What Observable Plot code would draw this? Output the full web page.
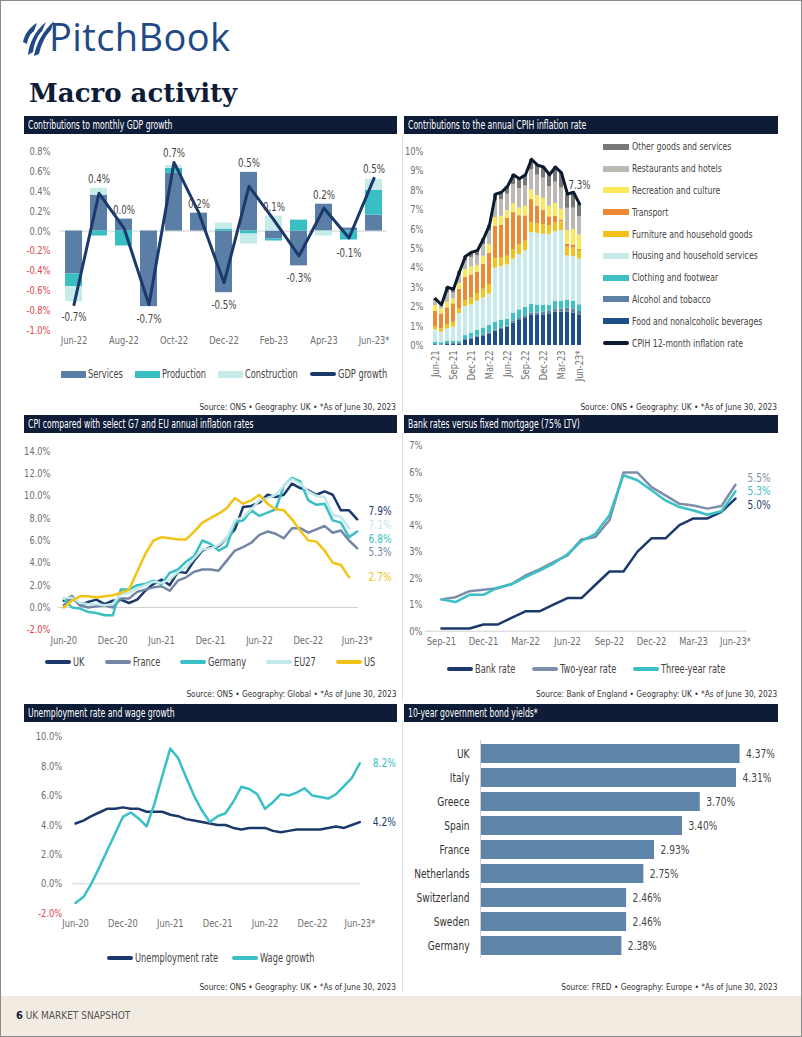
<!DOCTYPE html>
<html>
<head>
<meta charset="utf-8">
<script src="https://cdn.jsdelivr.net/npm/d3@7"></script>
<script src="https://cdn.jsdelivr.net/npm/@observablehq/plot@0.6"></script>
<style>
html,body{margin:0;padding:0;}
body{width:802px;height:1037px;position:relative;overflow:hidden;background:#fff;
  font-family:"Liberation Sans Narrow","Noto Sans Condensed","DejaVu Sans Condensed",Roboto,sans-serif;}
.abs{position:absolute;}
.tbar{position:absolute;height:18px;background:#0e1c38;color:#fff;font-size:11.5px;line-height:18px;padding-left:4px;box-sizing:border-box;white-space:nowrap;overflow:hidden;}
.tbar span{display:inline-block;transform:scaleX(0.745);transform-origin:left center;}
.src{position:absolute;font-size:9.5px;color:#333;text-align:right;white-space:nowrap;}
.src span{display:inline-block;transform:scaleX(0.87);transform-origin:right center;}
.vline{position:absolute;width:1px;background:#dedede;}
</style>
</head>
<body>
<div class="abs" style="left:0;top:0;width:800px;height:1035px;border:1px solid #8a8a8a;"></div>

<!-- header -->
<svg class="abs" style="left:20px;top:18px" width="36" height="40" viewBox="0 0 36 40">
  <path d="M3 24 C5 15 10 9 17 5 L14 13 C10 16 8 20 7 26 Z" fill="#1f4a86"/>
  <path d="M8 37 C9 25 15 13 26 4 L22 13 C17 18 14 26 13 34 Z" fill="#1f4a86"/>
  <path d="M14 38 C16 26 23 13 34 3 L31 12 C25 18 21 27 19 36 Z" fill="#1f4a86"/>
</svg>
<div class="abs" style="left:49px;top:10px;font-family:'Open Sans',sans-serif;font-size:38px;color:#1f4a86;letter-spacing:0.4px;">PitchBook</div>
<div class="abs" style="left:29px;top:78px;font-family:'DejaVu Serif',serif;font-weight:bold;font-size:26px;color:#0e1c38;">Macro activity</div>

<!-- title bars -->
<div class="tbar" style="left:24px;top:116px;width:373px;"><span>Contributions to monthly GDP growth</span></div>
<div class="tbar" style="left:404px;top:116px;width:374px;"><span>Contributions to the annual CPIH inflation rate</span></div>
<div class="tbar" style="left:24px;top:415px;width:373px;"><span>CPI compared with select G7 and EU annual inflation rates</span></div>
<div class="tbar" style="left:404px;top:415px;width:374px;"><span>Bank rates versus fixed mortgage (75% LTV)</span></div>
<div class="tbar" style="left:24px;top:704px;width:373px;"><span>Unemployment rate and wage growth</span></div>
<div class="tbar" style="left:404px;top:704px;width:374px;"><span>10-year government bond yields*</span></div>

<div class="vline" style="left:402px;top:134px;height:278px;"></div>
<div class="vline" style="left:402px;top:433px;height:268px;"></div>
<div class="vline" style="left:402px;top:722px;height:270px;"></div>

<!-- sources -->
<div class="src" style="right:406px;top:401px;"><span>Source: ONS • Geography: UK • *As of June 30, 2023</span></div>
<div class="src" style="right:25px;top:401px;"><span>Source: ONS • Geography: UK • *As of June 30, 2023</span></div>
<div class="src" style="right:406px;top:688px;"><span>Source: ONS • Geography: Global • *As of June 30, 2023</span></div>
<div class="src" style="right:25px;top:688px;"><span>Source: Bank of England • Geography: UK • *As of June 30, 2023</span></div>
<div class="src" style="right:406px;top:981px;"><span>Source: ONS • Geography: UK • *As of June 30, 2023</span></div>
<div class="src" style="right:25px;top:981px;"><span>Source: FRED • Geography: Europe • *As of June 30, 2023</span></div>

<!-- footer -->
<div class="abs" style="left:1px;top:996px;width:800px;height:40px;background:#f1ebe1;"></div>
<div class="abs" style="left:16px;top:1009px;font-size:10px;white-space:nowrap;"><b style="color:#0e1c38;font-size:11px;">6</b> <span style="color:#555;">UK MARKET SNAPSHOT</span></div>

<script>
// ---------------- DATA ----------------
// 1. Contributions to monthly GDP growth (%)
const gdpMonths = ["Jun-22","Jul-22","Aug-22","Sep-22","Oct-22","Nov-22","Dec-22","Jan-23","Feb-23","Mar-23","Apr-23","May-23","Jun-23*"];
const gdpServices     = [-0.43, 0.36, 0.12, -0.76, 0.58, 0.18, -0.62, 0.59, -0.08, -0.35, 0.27, 0.03, 0.16];
const gdpProduction   = [-0.13, -0.05, -0.15, 0.00, 0.05, 0.00, 0.02, -0.03, -0.02, 0.11, 0.00, -0.09, 0.25];
const gdpConstruction = [-0.15, 0.07, 0.00, 0.00, 0.03, 0.00, 0.06, -0.10, 0.15, 0.00, -0.05, 0.00, 0.11];
const gdpGrowth       = [-0.74, 0.38, 0.03, -0.74, 0.69, 0.18, -0.52, 0.45, 0.11, -0.25, 0.23, -0.07, 0.53];
const gdpYTicks = [-1.0,-0.8,-0.6,-0.4,-0.2,0,0.2,0.4,0.6,0.8];

// 2. Contributions to annual CPIH inflation rate (percentage points)
const cpihMonths = ["Jun-21","Jul-21","Aug-21","Sep-21","Oct-21","Nov-21","Dec-21","Jan-22","Feb-22","Mar-22","Apr-22","May-22","Jun-22","Jul-22","Aug-22","Sep-22","Oct-22","Nov-22","Dec-22","Jan-23","Feb-23","Mar-23","Apr-23","May-23","Jun-23*"];
const cpihFood        = [0.00,0.00,0.05,0.05,0.05,0.26,0.34,0.43,0.50,0.60,0.74,0.86,0.95,1.15,1.29,1.43,1.55,1.55,1.58,1.63,1.72,1.72,1.72,1.68,1.55];
const cpihAlcohol     = [0.05,0.04,0.05,0.05,0.05,0.05,0.05,0.05,0.05,0.05,0.05,0.05,0.05,0.10,0.10,0.10,0.12,0.13,0.15,0.15,0.15,0.15,0.20,0.20,0.20];
const cpihClothing    = [0.12,0.10,0.12,0.12,0.10,0.20,0.25,0.30,0.35,0.40,0.40,0.40,0.35,0.40,0.45,0.45,0.45,0.40,0.35,0.30,0.40,0.40,0.40,0.40,0.35];
const cpihHousing     = [0.64,0.55,0.64,0.73,1.45,1.50,1.45,1.50,1.55,1.60,2.80,2.75,2.80,2.80,2.85,2.90,3.70,3.70,3.65,3.65,3.60,3.65,2.30,2.30,2.35];
const cpihFurniture   = [0.14,0.17,0.22,0.25,0.25,0.30,0.35,0.40,0.45,0.50,0.50,0.45,0.45,0.50,0.50,0.50,0.50,0.50,0.50,0.45,0.45,0.45,0.45,0.45,0.45];
const cpihTransport   = [0.80,0.77,0.86,0.95,1.00,1.20,1.20,1.10,1.30,1.60,1.65,1.70,1.95,1.90,1.50,1.30,1.20,0.90,0.75,0.45,0.35,0.10,0.15,0.15,0.05];
const cpihRecreation  = [0.31,0.26,0.29,0.25,0.30,0.40,0.40,0.35,0.40,0.45,0.45,0.45,0.40,0.45,0.40,0.50,0.50,0.55,0.60,0.55,0.65,0.55,0.70,0.80,0.75];
const cpihRestaurants = [0.24,0.17,0.48,0.30,0.40,0.45,0.50,0.50,0.60,0.70,0.85,0.85,0.85,1.00,1.00,1.05,1.05,1.05,1.05,1.00,1.10,1.10,1.15,1.10,0.95];
const cpihOther       = [0.10,0.04,0.29,0.20,0.20,0.24,0.26,0.27,0.30,0.30,0.36,0.39,0.40,0.50,0.51,0.57,0.53,0.52,0.57,0.62,0.78,0.78,0.73,0.82,0.65];
const cpihRate        = [2.4,2.1,3.0,2.9,3.8,4.6,4.8,4.9,5.5,6.2,7.8,7.9,8.2,8.8,8.6,8.8,9.6,9.3,9.2,8.8,9.2,8.9,7.8,7.9,7.3];
const cpihSeries = ["Food and nonalcoholic beverages","Alcohol and tobacco","Clothing and footwear","Housing and household services","Furniture and household goods","Transport","Recreation and culture","Restaurants and hotels","Other goods and services"];
const cpihYTicks = [0,1,2,3,4,5,6,7,8,9,10];

// 3. CPI annual inflation (%), monthly from Jun-20
const cpiUK      = [0.6,1.0,0.2,0.5,0.7,0.3,0.6,0.7,0.4,0.7,1.5,2.1,2.5,2.0,3.2,3.1,4.2,5.1,5.4,5.5,6.2,7.0,9.0,9.1,9.4,10.1,9.9,10.1,11.1,10.7,10.5,10.1,10.4,10.1,8.7,8.7,7.9];
const cpiFrance  = [0.2,0.9,0.2,0.0,0.1,0.2,0.0,0.8,0.8,1.4,1.6,1.8,1.9,1.5,2.4,2.7,3.2,3.4,3.4,3.3,4.2,5.1,5.4,5.8,6.5,6.8,6.6,6.2,7.1,7.1,6.7,7.0,7.3,6.7,6.9,6.0,5.3];
const cpiGermany = [0.8,0.0,-0.1,-0.4,-0.5,-0.7,-0.7,1.6,1.6,2.0,2.1,2.4,2.1,3.1,3.4,4.1,4.6,6.0,5.7,5.1,5.5,7.6,7.8,8.7,8.2,8.5,8.8,10.9,11.6,11.3,9.6,9.2,9.3,7.8,7.6,6.3,6.8];
const cpiEU27    = [0.8,0.9,0.4,0.3,0.3,0.2,0.3,1.2,1.3,1.7,2.0,2.3,2.2,2.5,3.2,3.6,4.4,5.2,5.3,5.6,6.2,7.8,8.1,8.8,9.6,9.8,10.1,10.9,11.5,11.1,10.4,10.0,9.9,8.3,8.1,7.1];
const cpiUS      = [0.0,0.6,1.0,1.0,0.9,1.0,1.1,1.3,1.6,3.2,4.8,6.0,6.3,6.2,6.1,6.1,6.8,7.6,8.0,8.4,8.9,9.8,9.3,9.6,10.1,9.3,8.8,8.7,7.9,6.9,6.0,5.9,5.1,4.0,3.8,2.7];
const cpiSeries = ["UK","France","Germany","EU27","US"];
const cpiXTicks = [0,6,12,18,24,30,36];
const cpiXLabels = ["Jun-20","Dec-20","Jun-21","Dec-21","Jun-22","Dec-22","Jun-23*"];
const cpiYTicks = [-2,0,2,4,6,8,10,12,14];

// 4. Bank rate vs fixed mortgage rates (%), monthly from Sep-21
const bankRate  = [0.1,0.1,0.1,0.25,0.25,0.5,0.75,0.75,1.0,1.25,1.25,1.75,2.25,2.25,3.0,3.5,3.5,4.0,4.25,4.25,4.5,5.0];
const bankTwo   = [1.2,1.28,1.51,1.56,1.62,1.78,2.1,2.33,2.6,2.86,3.46,3.55,4.18,5.98,5.98,5.43,5.12,4.8,4.74,4.62,4.72,5.52];
const bankThree = [1.2,1.1,1.37,1.37,1.64,1.76,2.04,2.28,2.55,2.9,3.4,3.67,4.37,5.88,5.69,5.31,4.93,4.68,4.55,4.39,4.52,5.27];
const bankSeries = ["Bank rate","Two-year rate","Three-year rate"];
const bankXTicks = [0,3,6,9,12,15,18,21];
const bankXLabels = ["Sep-21","Dec-21","Mar-22","Jun-22","Sep-22","Dec-22","Mar-23","Jun-23*"];
const bankYTicks = [0,1,2,3,4,5,6,7];

// 5. Unemployment rate and wage growth (%), monthly from Jun-20
const unemployment = [4.1,4.3,4.6,4.85,5.1,5.1,5.2,5.1,5.1,4.9,4.9,4.9,4.7,4.6,4.4,4.3,4.2,4.1,4.0,4.0,3.8,3.7,3.8,3.8,3.8,3.6,3.5,3.6,3.7,3.7,3.7,3.7,3.8,3.9,3.8,4.0,4.2];
const wageGrowth   = [-1.3,-0.9,0.0,1.1,2.25,3.4,4.55,4.85,4.45,3.9,5.45,7.35,9.2,8.55,7.25,6.0,5.0,4.2,4.6,4.8,5.6,6.6,6.45,6.1,5.1,5.55,6.1,6.0,6.2,6.5,6.0,5.9,5.8,6.1,6.65,7.2,8.2];
const labSeries = ["Unemployment rate","Wage growth"];
const labXTicks = [0,6,12,18,24,30,36];
const labXLabels = ["Jun-20","Dec-20","Jun-21","Dec-21","Jun-22","Dec-22","Jun-23*"];
const labYTicks = [-2,0,2,4,6,8,10];

// 6. 10-year government bond yields (%)
const bondCountries = ["UK","Italy","Greece","Spain","France","Netherlands","Switzerland","Sweden","Germany"];
const bondYields    = [4.37,4.31,3.70,3.40,2.93,2.75,2.46,2.46,2.38];

// ---------------- STYLE ----------------
const FONT = '"Liberation Sans Narrow","Noto Sans Condensed","DejaVu Sans Condensed",Roboto,sans-serif';
const GRAY = "#6e6e6e", RED = "#e0444a", AXIS = "#d0d0d0", NAVY = "#1b3a6b";
const cpihColors = ["#1e4f8a","#5e7fa6","#3ebfc6","#c6ebea","#f2c21b","#ec8a34","#fbe85a","#bcb9b4","#7a7876"];
const cpiColors = [NAVY,"#7386a5","#3bbfc6","#c2e9e9","#f2c316"];
const bankColors = [NAVY,"#7f8ea8","#3bbfc6"];
const labColors = [NAVY,"#3bbfc6"];
const pct1 = d => d.toFixed(1) + "%";
const SQUEEZE = 0.8;      // HTML legend text
const SVG_SQUEEZE = 0.84; // chart text

function baseStyle() {
  return {fontFamily: FONT, fontSize: "11px", color: GRAY, background: "transparent", overflow: "visible"};
}
function mount(node, left, top) {
  node.style.position = "absolute";
  node.style.left = left + "px";
  node.style.top = top + "px";
  document.body.appendChild(node);
  // condense chart text horizontally (reference uses a narrow typeface)
  node.querySelectorAll("text").forEach(t => {
    const len = t.getComputedTextLength();
    if (len > 0) {
      t.setAttribute("textLength", (len * SVG_SQUEEZE).toFixed(2));
      t.setAttribute("lengthAdjust", "spacingAndGlyphs");
    }
  });
}
// horizontally condense an inline-block text span, keeping layout width consistent
function squeeze(span, s) {
  span.style.display = "inline-block";
  const w = span.offsetWidth;
  span.style.transform = `scaleX(${s})`;
  span.style.transformOrigin = "left center";
  span.style.marginRight = (-(1 - s) * w) + "px";
}
function swatch(it) {
  const sw = document.createElement("span");
  sw.style.cssText = it.type === "line"
    ? `display:inline-block;flex:none;width:26px;height:4px;border-radius:2px;background:${it.color}`
    : `display:inline-block;flex:none;width:25px;height:7px;background:${it.color}`;
  return sw;
}
function hLegend(items, left, top, width, gap) {
  const div = document.createElement("div");
  div.style.cssText = `position:absolute;left:${left}px;top:${top}px;width:${width}px;height:14px;display:flex;justify-content:center;align-items:center;gap:${gap}px;font-size:11.5px;color:#444;font-family:${FONT};white-space:nowrap;`;
  document.body.appendChild(div);
  for (const it of items) {
    const s = document.createElement("span");
    s.style.cssText = "display:flex;align-items:center;gap:2px;";
    s.appendChild(swatch(it));
    const t = document.createElement("span");
    t.textContent = it.label;
    s.appendChild(t);
    div.appendChild(s);
    squeeze(t, SQUEEZE);
  }
}
// spreads end labels apart (in data units) so that they do not overlap
function dodge(vals, sep) {
  const order = vals.map((v, i) => i).sort((a, b) => vals[b] - vals[a]);
  let clusters = order.map(i => ({members: [i], center: vals[i]}));
  let changed = true;
  while (changed) {
    changed = false;
    for (let k = 0; k < clusters.length - 1; k++) {
      const a = clusters[k], b = clusters[k + 1];
      const aLow = a.center - (a.members.length - 1) * sep / 2;
      const bHigh = b.center + (b.members.length - 1) * sep / 2;
      if (aLow - bHigh < sep) {
        const members = a.members.concat(b.members);
        const center = d3.mean(members, i => vals[i]);
        clusters.splice(k, 2, {members, center});
        changed = true;
        break;
      }
    }
  }
  const out = [];
  clusters.forEach(c => c.members.forEach((i, j) => { out[i] = c.center + ((c.members.length - 1) / 2 - j) * sep; }));
  return out;
}

// ---------------- CHART 1: GDP ----------------
{
  const table = gdpMonths.flatMap((m, i) => [
    {month: m, series: "Services", value: gdpServices[i]},
    {month: m, series: "Production", value: gdpProduction[i]},
    {month: m, series: "Construction", value: gdpConstruction[i]}
  ]);
  const line = gdpMonths.map((m, i) => ({month: m, value: gdpGrowth[i]}));
  const labels = gdpMonths.map((m, i) => {
    const parts = [gdpServices[i], gdpProduction[i], gdpConstruction[i]];
    const pos = d3.sum(parts, v => Math.max(0, v));
    const neg = d3.sum(parts, v => Math.min(0, v));
    const g = gdpGrowth[i];
    return {month: m, y: g >= 0 ? Math.max(pos, g) + 0.09 : Math.min(neg, g) - 0.13,
            text: (g < 0 ? "-" : "") + Math.abs(g).toFixed(1) + "%"};
  });
  const chart = Plot.plot({
    width: 373, height: 214,
    marginLeft: 36, marginRight: 10, marginTop: 17, marginBottom: 18,
    style: baseStyle(),
    x: {type: "band", domain: gdpMonths, paddingInner: 0.325, paddingOuter: 0.15},
    y: {domain: [-1.0, 0.8]},
    color: {domain: ["Services","Production","Construction"], range: ["#5b7ea6","#39bec4","#c6ecea"]},
    marks: [
      Plot.axisY({ticks: gdpYTicks, tickSize: 0, tickPadding: 10, tickFormat: pct1, fill: d => d < 0 ? RED : GRAY, label: null}),
      Plot.axisX({tickSize: 0, tickPadding: 6, tickFormat: d => gdpMonths.indexOf(d) % 2 === 0 ? d : "", label: null}),
      Plot.ruleY([0], {stroke: AXIS}),
      Plot.barY(table, {x: "month", y: "value", fill: "series"}),
      Plot.line(line, {x: "month", y: "value", stroke: NAVY, strokeWidth: 3}),
      Plot.text(labels, {x: "month", y: "y", text: "text", fill: "#444", fontSize: 11.5})
    ]
  });
  mount(chart, 24, 134);
  hLegend([
    {label: "Services", color: "#5b7ea6"},
    {label: "Production", color: "#39bec4"},
    {label: "Construction", color: "#c6ecea"},
    {label: "GDP growth", color: NAVY, type: "line"}
  ], 60, 367, 328, 12);
}

// ---------------- CHART 2: CPIH ----------------
{
  const comps = [cpihFood, cpihAlcohol, cpihClothing, cpihHousing, cpihFurniture, cpihTransport, cpihRecreation, cpihRestaurants, cpihOther];
  const table = cpihMonths.flatMap((m, i) => cpihSeries.map((s, j) => ({month: m, series: s, value: comps[j][i]})));
  const rate = cpihMonths.map((m, i) => ({month: m, value: cpihRate[i]}));
  const last = rate[rate.length - 1];
  const chart = Plot.plot({
    width: 190, height: 266,
    marginLeft: 26, marginRight: 9, marginTop: 17, marginBottom: 55,
    style: baseStyle(),
    x: {type: "band", domain: cpihMonths, paddingInner: 0.3, paddingOuter: 0.3},
    y: {domain: [0, 10]},
    color: {domain: cpihSeries, range: cpihColors},
    marks: [
      Plot.axisY({ticks: cpihYTicks, tickSize: 0, tickPadding: 7, tickFormat: d => d + "%", label: null}),
      Plot.axisX({tickSize: 0, tickPadding: 5, tickRotate: -90, tickFormat: d => cpihMonths.indexOf(d) % 3 === 0 ? d : "", label: null}),
      Plot.barY(table, {x: "month", y: "value", fill: "series"}),
      Plot.line(rate, {x: "month", y: "value", stroke: "#0c1a30", strokeWidth: 3}),
      Plot.text([last], {x: "month", y: "value", text: d => d.value.toFixed(1) + "%", dy: -19, fill: "#444", fontSize: 11.5})
    ]
  });
  mount(chart, 404, 134);
  // vertical legend (top entry = top of stack)
  const entries = cpihSeries.map((s, j) => ({label: s, color: cpihColors[j], type: "rect"})).reverse();
  entries.push({label: "CPIH 12-month inflation rate", color: "#0c1a30", type: "line"});
  const leg = document.createElement("div");
  leg.style.cssText = `position:absolute;left:603px;top:136px;font-family:${FONT};font-size:10.8px;color:#444;`;
  document.body.appendChild(leg);
  for (const e of entries) {
    const row = document.createElement("div");
    row.style.cssText = "height:21.8px;display:flex;align-items:center;gap:3px;white-space:nowrap;";
    const sw = swatch(e);
    sw.style.width = "26px";
    sw.style.height = e.type === "line" ? "3.5px" : "6px";
    row.appendChild(sw);
    const t = document.createElement("span");
    t.textContent = e.label;
    row.appendChild(t);
    leg.appendChild(row);
    squeeze(t, SQUEEZE);
  }
}

// ---------------- CHART 3: CPI ----------------
{
  const vals = [cpiUK, cpiFrance, cpiGermany, cpiEU27, cpiUS];
  const table = cpiSeries.flatMap((s, j) => vals[j].map((v, i) => ({series: s, i, value: v})));
  const lastVals = vals.map(v => v[v.length - 1]);
  const ly = dodge(lastVals, 1.24);
  const endLabels = cpiSeries.map((s, j) => ({series: s, ly: ly[j], text: pct1(lastVals[j])}));
  const chart = Plot.plot({
    width: 373, height: 222,
    marginLeft: 34, marginRight: 39, marginTop: 17.7, marginBottom: 25.7,
    style: baseStyle(),
    x: {domain: [-0.65, 36.16]},
    y: {domain: [-2, 14]},
    color: {domain: cpiSeries, range: cpiColors},
    marks: [
      Plot.axisY({ticks: cpiYTicks, tickSize: 0, tickPadding: 8, tickFormat: pct1, fill: d => d < 0 ? RED : GRAY, label: null}),
      Plot.axisX({ticks: cpiXTicks, tickSize: 0, tickPadding: 6, tickFormat: d => cpiXLabels[cpiXTicks.indexOf(d)], label: null}),
      Plot.ruleY([0], {stroke: AXIS}),
      Plot.line(table, {x: "i", y: "value", z: "series", stroke: "series", strokeWidth: 2.5}),
      Plot.text(endLabels, {frameAnchor: "right", y: "ly", text: "text", fill: "series", dx: 10, textAnchor: "start", fontSize: 12})
    ]
  });
  mount(chart, 24, 433);
  hLegend(cpiSeries.map((s, j) => ({label: s, color: cpiColors[j], type: "line"})), 24, 655, 373, 20);
}

// ---------------- CHART 4: Bank rates ----------------
{
  const vals = [bankRate, bankTwo, bankThree];
  const table = bankSeries.flatMap((s, j) => vals[j].map((v, i) => ({series: s, i, value: v})));
  const lastVals = vals.map(v => v[v.length - 1]);
  const ly = dodge(lastVals, 0.51);
  const endLabels = bankSeries.map((s, j) => ({series: s, ly: ly[j], text: pct1(lastVals[j])}));
  const chart = Plot.plot({
    width: 374, height: 223,
    marginLeft: 21, marginRight: 31, marginTop: 12, marginBottom: 25.3,
    style: baseStyle(),
    x: {domain: [-1.14, 21.86]},
    y: {domain: [0, 7]},
    color: {domain: bankSeries, range: bankColors},
    marks: [
      Plot.axisY({ticks: bankYTicks, tickSize: 0, tickPadding: 3, tickFormat: d => d + "%", label: null}),
      Plot.axisX({ticks: bankXTicks, tickSize: 0, tickPadding: 6, tickFormat: d => bankXLabels[bankXTicks.indexOf(d)], label: null}),
      Plot.ruleY([0], {stroke: AXIS}),
      Plot.line(table, {x: "i", y: "value", z: "series", stroke: "series", strokeWidth: 2.5}),
      Plot.text(endLabels, {frameAnchor: "right", y: "ly", text: "text", fill: "series", dx: 0, textAnchor: "start", fontSize: 12})
    ]
  });
  mount(chart, 404, 433);
  hLegend(bankSeries.map((s, j) => ({label: s, color: bankColors[j], type: "line"})), 425, 662, 322, 17);
}

// ---------------- CHART 5: Unemployment & wages ----------------
{
  const vals = [unemployment, wageGrowth];
  const table = labSeries.flatMap((s, j) => vals[j].map((v, i) => ({series: s, i, value: v})));
  const endLabels = labSeries.map((s, j) => ({series: s, i: vals[j].length - 1, value: vals[j][vals[j].length - 1]}));
  const chart = Plot.plot({
    width: 373, height: 218,
    marginLeft: 47.7, marginRight: 37, marginTop: 14.3, marginBottom: 27.3,
    style: baseStyle(),
    x: {domain: [-0.42, 36.09]},
    y: {domain: [-2, 10]},
    color: {domain: labSeries, range: labColors},
    marks: [
      Plot.axisY({ticks: labYTicks, tickSize: 0, tickPadding: 10, tickFormat: pct1, fill: d => d < 0 ? RED : GRAY, label: null}),
      Plot.axisX({ticks: labXTicks, tickSize: 0, tickPadding: 6, tickFormat: d => labXLabels[labXTicks.indexOf(d)], label: null}),
      Plot.ruleY([0], {stroke: AXIS}),
      Plot.line(table, {x: "i", y: "value", z: "series", stroke: "series", strokeWidth: 2.5}),
      Plot.text(endLabels, {x: "i", y: "value", text: d => pct1(d.value), fill: "series", dx: 13, textAnchor: "start", fontSize: 12})
    ]
  });
  mount(chart, 24, 722);
  hLegend(labSeries.map((s, j) => ({label: s, color: labColors[j], type: "line"})), 24, 951, 373, 14);
}

// ---------------- CHART 6: Bond yields ----------------
{
  const table = bondCountries.map((c, i) => ({country: c, value: bondYields[i]}));
  const chart = Plot.plot({
    width: 374, height: 250,
    marginLeft: 76, marginRight: 1, marginTop: 18, marginBottom: 14,
    style: baseStyle(),
    x: {domain: [0, 5], axis: null},
    y: {type: "band", domain: bondCountries, paddingInner: 0.22, paddingOuter: 0.06},
    marks: [
      Plot.axisY({tickSize: 0, tickPadding: 11, label: null, fill: "#333", fontSize: 12}),
      Plot.barX(table, {x: "value", y: "country", fill: "#5f84a9"}),
      Plot.ruleX([0], {stroke: "#cfcfcf"}),
      Plot.text(table, {x: "value", y: "country", text: d => d.value.toFixed(2) + "%", textAnchor: "start", dx: 6, fill: "#444", fontSize: 12})
    ]
  });
  mount(chart, 404, 722);
}
</script>
</body>
</html>
